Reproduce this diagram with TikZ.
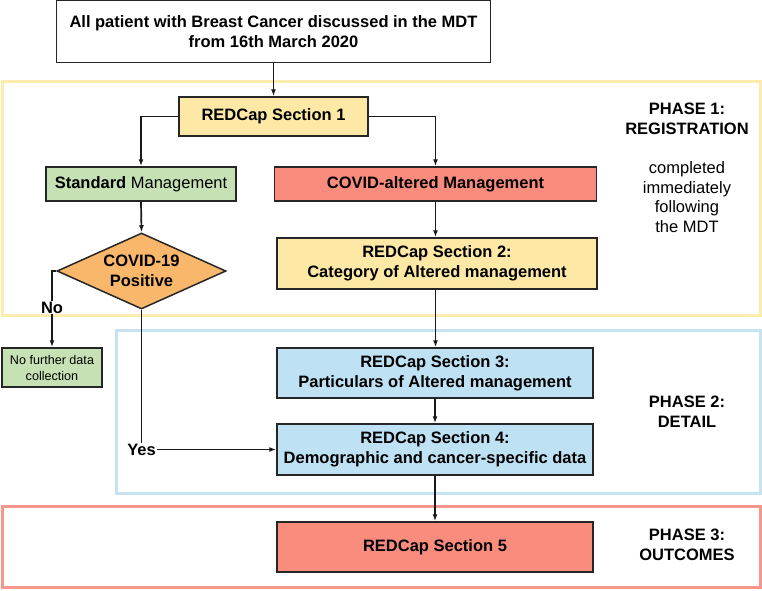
\documentclass[tikz,border=0pt]{standalone}
\usepackage{fontspec}
\setmainfont{Liberation Sans}
\usetikzlibrary{shapes.geometric,arrows.meta}
\definecolor{yfill}{HTML}{FDE9A5}
\definecolor{yframe}{HTML}{FCECAE}
\definecolor{gfill}{HTML}{C6E2B4}
\definecolor{sfill}{HTML}{FA8C7E}
\definecolor{ofill}{HTML}{F9B76B}
\definecolor{bfill}{HTML}{BFE1F4}
\definecolor{bframe}{HTML}{C5E3F0}
\definecolor{sframe}{HTML}{F7968B}
\tikzset{
  box/.style={draw=black!85, line width=1.5pt, inner sep=0pt, align=center,
    font=\fontsize{16.5}{20}\selectfont\bfseries},
  frame/.style={line width=3pt},
  arr/.style={draw=black!90, line width=1.7pt, -{Latex[length=7pt,width=5pt]}},
  lbl/.style={align=center, font=\fontsize{16.5}{20}\selectfont\bfseries},
  note/.style={align=center, font=\fontsize{16.5}{19.5}\selectfont},
}
\begin{document}
\begin{tikzpicture}[x=1pt,y=-1pt]
\useasboundingbox (0,0) rectangle (762,590);
% phase frames
\draw[frame, yframe] (2,81) rectangle (760,315);
\draw[frame, bframe] (116,330) rectangle (760,493);
\draw[frame, sframe] (2,506) rectangle (760,587);
% nodes
\node[box, fill=white, minimum width=434pt, minimum height=62pt] (top) at (273.5,31.5)
  {All patient with Breast Cancer discussed in the MDT\\from 16th March 2020};
\node[box, fill=yfill, minimum width=189pt, minimum height=39pt] (s1) at (273.5,116.5) {REDCap Section 1};
\node[box, fill=gfill, minimum width=190pt, minimum height=34pt] (std) at (141,184)
  {Standard \mdseries Management};
\node[box, fill=sfill, minimum width=322pt, minimum height=34pt] (alt) at (435.5,184) {COVID-altered Management};
\node[box, fill=ofill, shape=diamond, aspect=2.22, minimum width=169pt, minimum height=76pt] (dia) at (141.5,271)
  {COVID-19\\Positive};
\node[box, fill=yfill, minimum width=320pt, minimum height=51pt] (s2) at (437,263.5)
  {REDCap Section 2:\\Category of Altered management};
\node[box, fill=gfill, minimum width=100pt, minimum height=39pt, font=\fontsize{12.6}{16}\selectfont] (nof) at (52,367.5)
  {No further data\\collection};
\node[box, fill=bfill, minimum width=316pt, minimum height=50pt] (s3) at (435,373)
  {REDCap Section 3:\\Particulars of Altered management};
\node[box, fill=bfill, minimum width=316pt, minimum height=51pt] (s4) at (435,449.5)
  {REDCap Section 4:\\Demographic and cancer-specific data};
\node[box, fill=sfill, minimum width=316pt, minimum height=50pt] (s5) at (435,547) {REDCap Section 5};
% phase labels
\node[lbl] (p1) at (687,119) {PHASE 1:\\REGISTRATION};
\node[note] (p1n) at (687,197) {completed\\immediately\\following\\the MDT};
\node[lbl] (p2) at (687,412) {PHASE 2:\\DETAIL};
\node[lbl] (p3) at (687,545) {PHASE 3:\\OUTCOMES};
% connectors
\draw[arr] (top.south -| s1.north) -- (s1.north);
\draw[arr] (s1.west) -| (std.north);
\draw[arr] (s1.east) -| (alt.north);
\draw[arr] (std.south) -- (dia.north);
\draw[arr] (alt.south) -- (alt.south |- s2.north);
\draw[arr] (s2.south -| alt.south) -- (s3.north -| alt.south);
\draw[arr] (s3.south) -- (s4.north);
\draw[arr] (s4.south) -- (s5.north);
\draw[arr] (dia.west) -| node[pos=0.74, fill=white, lbl, inner sep=1pt] {No} (nof.north);
\draw[arr] (dia.south) |- node[pos=0.5, fill=white, lbl, inner sep=1pt] {Yes} (s4.west);
\end{tikzpicture}
\end{document}
